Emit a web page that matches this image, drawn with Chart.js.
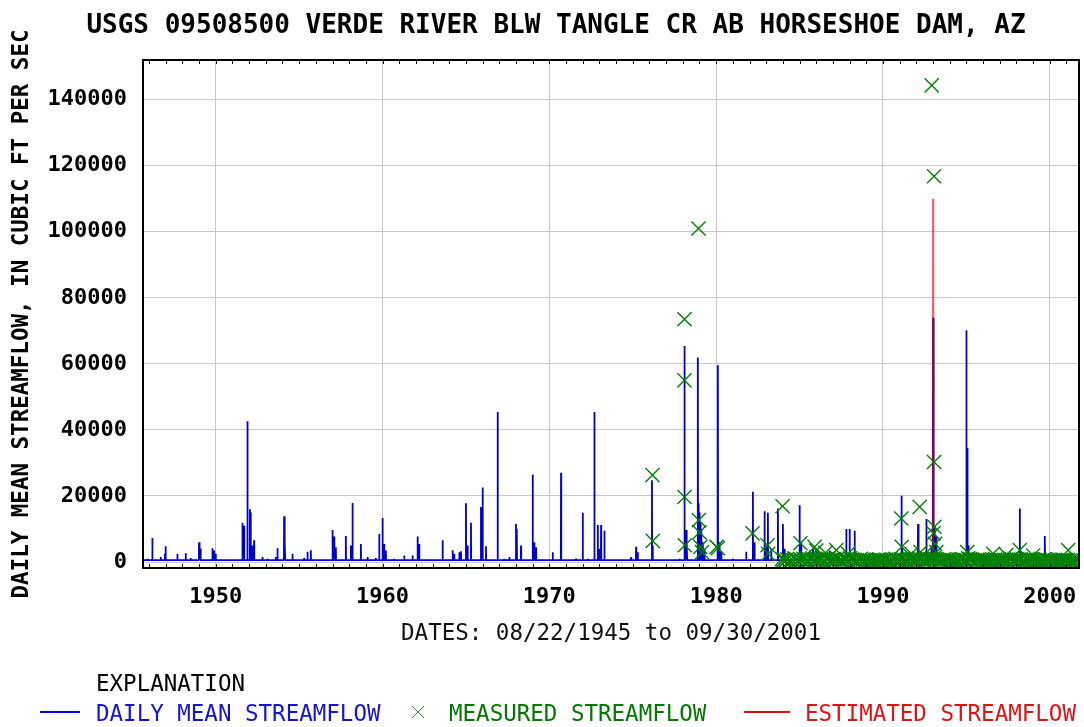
<!DOCTYPE html>
<html>
<head>
<meta charset="utf-8">
<title>USGS 09508500 Verde River</title>
<script src="https://cdn.jsdelivr.net/npm/chart.js@4.4.1/dist/chart.umd.min.js"></script>
<style>
  html, body { margin: 0; padding: 0; background: #fff; }
</style>
</head>
<body>
<canvas id="myChart" width="1084" height="727"></canvas>
<script>
const titleText = 'USGS 09508500 VERDE RIVER BLW TANGLE CR AB HORSESHOE DAM, AZ'
const yTitle = 'DAILY MEAN STREAMFLOW, IN CUBIC FT PER SEC'
const xTitle = 'DATES: 08/22/1945 to 09/30/2001'

const xMin = 1945.64   // 08/22/1945
const xMax = 2001.75   // 09/30/2001
const yMin = -1800
const yMax = 152000
const xTickYears = [1950, 1960, 1970, 1980, 1990, 2000]
const yTickValues = [0, 20000, 40000, 60000, 80000, 100000, 120000, 140000]

// daily mean flow: base flow plus the peaks
const baseFlow = 600
const dailyDates = [
  1945.9, 1946.2, 1946.7, 1946.95, 1947.0, 1947.7, 1948.2, 1948.5, 1949.0, 1949.05, 1949.1, 1949.8, 1949.9, 1950.0,
  1950.6, 1951.4, 1951.6, 1951.7, 1951.9, 1952.05, 1952.1, 1952.2, 1952.3, 1952.8, 1953.1, 1953.6, 1953.7,
  1954.1, 1954.15, 1954.6, 1955.3, 1955.5, 1955.7, 1956.3, 1957.0, 1957.1, 1957.2, 1957.8, 1958.1, 1958.2, 1958.7,
  1959.1, 1959.6, 1959.8, 1960.0, 1960.1, 1960.2, 1960.7, 1961.3, 1961.8, 1962.1, 1962.2, 1963.6, 1964.2, 1964.3,
  1964.6, 1964.7, 1965.0, 1965.1, 1965.3, 1965.9, 1966.0, 1966.2, 1966.9, 1967.3, 1967.6, 1968.0, 1968.05, 1968.3,
  1969.0, 1969.1, 1969.2, 1970.2, 1970.7, 1971.6, 1972.0, 1972.3, 1972.7, 1972.9, 1973.0, 1973.1, 1973.3, 1974.0,
  1974.9, 1975.2, 1975.3, 1976.15, 1976.2, 1977.8, 1978.1, 1978.2, 1978.25, 1978.9, 1978.95, 1979.0, 1979.05,
  1979.1, 1979.2, 1979.3, 1980.1, 1980.2, 1980.3, 1981.0, 1981.8, 1982.2, 1982.3, 1982.9, 1983.0, 1983.1, 1983.3,
  1983.7, 1984.0, 1984.1, 1985.0, 1985.1, 1985.6, 1985.8, 1986.0, 1986.6, 1986.8, 1987.2, 1987.8, 1988.0, 1988.3,
  1988.6, 1989.3, 1990.2, 1991.1, 1991.15, 1991.6, 1992.1, 1992.15, 1992.6, 1992.9, 1993.0, 1993.05, 1993.1,
  1993.2, 1995.0, 1995.05, 1995.1, 1995.15, 1995.6, 1996.5, 1997.5, 1998.2, 1998.25, 1999.7, 2000.5, 2001.2
]
const dailyPeaks = [
  1000, 7300, 1500, 2500, 4800, 2500, 2700, 1200, 6000, 4500, 4000, 4200, 3500, 2500,
  800, 700, 11900, 11000, 42600, 16000, 15000, 5000, 6600, 1500, 1000, 1500, 4200,
  13900, 6000, 2500, 1200, 3100, 3600, 800, 9700, 7700, 4500, 7900, 5000, 17900, 5500,
  1500, 1200, 8500, 13300, 5500, 3500, 1000, 2000, 2000, 7700, 5500, 6600, 3600, 2500,
  3000, 3300, 17800, 5000, 11900, 16700, 22600, 4800, 45400, 1000, 1500, 11500, 10000, 5000,
  26500, 6000, 4500, 3000, 27000, 1000, 14900, 1000, 45400, 11200, 4000, 11200, 9500, 800,
  1500, 4600, 3000, 24800, 5000, 1000, 65400, 9700, 5000, 61900, 17800, 15000, 12000,
  10000, 6000, 4000, 59600, 6000, 3000, 1000, 3100, 21300, 6000, 15400, 5000, 14900, 4000,
  16200, 11500, 4000, 17200, 6000, 3500, 4000, 3500, 2500, 3500, 2500, 10000, 10000, 9500,
  2000, 1500, 2000, 20100, 5000, 2500, 11500, 3000, 13000, 5000, 74000, 12000, 11000,
  8000, 70200, 34500, 5000, 3000, 2000, 1500, 2000, 16200, 3000, 7900, 1500, 1200
]

// estimated streamflow (null = no estimate)
const estimatedDates = [1991.18, 1991.22, 1991.7, 1992.3, 1992.34, 1992.6, 1992.985, 1993.0, 1993.015]
const estimatedFlows = [700, 700, null, 700, 700, null, 600, 110000, 600]

// field measurements
const measuredDates = [
  1976.18, 1976.2, 1978.1, 1978.1, 1978.1, 1978.12, 1978.94, 1978.96, 1979.0, 1979.05, 1979.15, 1980.02, 1980.1,
  1982.18, 1983.08, 1983.12, 1983.98,
  1985.05, 1985.9, 1986.0, 1986.55, 1987.2, 1987.9, 1991.1, 1991.12, 1991.7, 1992.2, 1992.25, 1992.92, 1993.06,
  1993.06, 1993.03, 1993.08, 1993.12, 1993.2, 1995.05, 1996.6, 1997.4, 1998.2, 1999.0, 2001.1,
  1983.94,
  1984.04, 1984.15, 1984.26, 1984.36, 1984.47, 1984.58, 1984.69, 1984.80, 1984.91,
  1985.02, 1985.13, 1985.22, 1985.34, 1985.45, 1985.56, 1985.66, 1985.77, 1985.88, 1985.97,
  1986.08, 1986.19, 1986.29, 1986.41, 1986.52, 1986.62, 1986.73, 1986.84, 1986.95,
  1987.06, 1987.17, 1987.27, 1987.38, 1987.50, 1987.60, 1987.71, 1987.82, 1987.93,
  1988.03, 1988.14, 1988.25, 1988.36, 1988.46, 1988.57, 1988.68, 1988.79, 1988.90,
  1989.01, 1989.12, 1989.23, 1989.34, 1989.44, 1989.55, 1989.66, 1989.77, 1989.88, 1989.98,
  1990.09, 1990.20, 1990.31, 1990.42, 1990.52, 1990.63, 1990.74, 1990.85, 1990.96,
  1991.07, 1991.18, 1991.28, 1991.39, 1991.50, 1991.61, 1991.72, 1991.83, 1991.94,
  1992.05, 1992.16, 1992.27, 1992.38, 1992.48, 1992.59, 1992.70, 1992.81, 1992.92,
  1993.03, 1993.14, 1993.25, 1993.36, 1993.47, 1993.57, 1993.68, 1993.79, 1993.90,
  1994.01, 1994.12, 1994.23, 1994.34, 1994.45, 1994.56, 1994.66, 1994.77, 1994.88, 1994.99,
  1995.10, 1995.21, 1995.32, 1995.43, 1995.54, 1995.64, 1995.75, 1995.86, 1995.97,
  1996.08, 1996.19, 1996.30, 1996.41, 1996.52, 1996.62, 1996.73, 1996.84, 1996.95,
  1997.06, 1997.17, 1997.28, 1997.39, 1997.50, 1997.61, 1997.71, 1997.82, 1997.93,
  1998.04, 1998.15, 1998.26, 1998.37, 1998.48, 1998.59, 1998.70, 1998.80, 1998.91,
  1999.02, 1999.13, 1999.24, 1999.35, 1999.46, 1999.57, 1999.68, 1999.79, 1999.89, 1999.99,
  2000.10, 2000.21, 2000.32, 2000.43, 2000.54, 2000.65, 2000.76, 2000.86, 2000.97,
  2001.08, 2001.19, 2001.30, 2001.41, 2001.52, 2001.63, 2001.73
]
const measuredFlows = [
  26300, 6400, 73500, 55000, 19700, 5100, 101000, 12700, 9000, 4600, 3000, 4600, 4200,
  8700, 5100, 2500, 16900,
  5700, 4600, 3500, 2800, 3600, 2500, 13200, 4600, 2500, 16700, 3000, 144300, 116800,
  30300, 8700, 10700, 5500, 3000, 3000, 2500, 2200, 3600, 2000, 3600,
  900,
  650, 480, 820, 300, 260, 540, 1100, 720, 430,
  880, 560, 990, 640, 350, 280, 760, 1050, 600, 470,
  820, 530, 690, 410, 300, 880, 1000, 560, 740,
  900, 610, 1050, 480, 330, 270, 690, 840, 520,
  1100, 760, 540, 380, 290, 620, 950, 700, 450,
  680, 520, 430, 310, 250, 270, 640, 820, 560, 480,
  600, 720, 390, 300, 260, 710, 1000, 650, 540,
  780, 940, 620, 410, 330, 760, 880, 590, 700,
  860, 1050, 720, 480, 360, 530, 900, 640, 810,
  1200, 950, 780, 520, 400, 610, 880, 690, 740,
  640, 560, 470, 360, 280, 300, 720, 940, 610, 550,
  1150, 900, 780, 520, 380, 660, 820, 590, 700,
  560, 480, 350, 280, 240, 620, 860, 500, 430,
  620, 540, 700, 390, 300, 680, 920, 600, 520,
  780, 660, 820, 470, 340, 700, 960, 580, 640,
  530, 460, 400, 320, 260, 610, 880, 720, 540, 480,
  500, 420, 330, 260, 230, 560, 780, 600, 520,
  640, 480, 400, 300, 280, 700, 620
]

const legendColors = ['#1414c8', '#007800', '#dc1414']

const buildDaily = () => {
  const pts = [{ x: xMin, y: baseFlow }]
  dailyDates.forEach((d, i) => {
    pts.push({ x: d - 0.012, y: baseFlow }, { x: d, y: dailyPeaks[i] }, { x: d + 0.012, y: baseFlow })
  })
  pts.push({ x: xMax, y: baseFlow })
  return pts
}

const toPoints = (dates, vals) => dates.map((d, i) => ({ x: d, y: vals[i] }))

const extras = {
  id: 'extras',
  afterDraw(chart) {
    const { ctx, chartArea: a, scales: { x } } = chart
    const ds = chart.data.datasets
    ctx.save()
    // small yearly tick marks inside the frame
    ctx.strokeStyle = '#000'
    ctx.lineWidth = 1
    for (let yr = Math.ceil(x.min); yr <= x.max; yr++) {
      const px = Math.round(x.getPixelForValue(yr)) + 0.5
      ctx.beginPath()
      ctx.moveTo(px, a.top); ctx.lineTo(px, a.top + 4)
      ctx.moveTo(px, a.bottom - 4); ctx.lineTo(px, a.bottom)
      ctx.stroke()
    }
    ctx.lineWidth = 2
    ctx.strokeRect(a.left, a.top, a.right - a.left, a.bottom - a.top)

    // title
    ctx.fillStyle = '#000'
    ctx.textAlign = 'center'
    ctx.textBaseline = 'alphabetic'
    ctx.font = 'bold 26px "DejaVu Sans Mono"'
    ctx.fillText(titleText, 556, 33)

    // explanation
    ctx.textAlign = 'left'
    ctx.font = '22.5px "DejaVu Sans Mono"'
    ctx.fillText('EXPLANATION', 96, 691)
    const rowY = 712
    const base = 721
    ctx.lineWidth = 2
    ctx.strokeStyle = ds[0].borderColor
    ctx.beginPath(); ctx.moveTo(40, rowY); ctx.lineTo(80, rowY); ctx.stroke()
    ctx.fillStyle = legendColors[0]
    ctx.fillText(ds[0].label, 96, base)

    ctx.lineWidth = 1
    ctx.strokeStyle = '#3c8c3c'
    ctx.beginPath()
    ctx.moveTo(412, rowY - 6); ctx.lineTo(424, rowY + 6)
    ctx.moveTo(424, rowY - 6); ctx.lineTo(412, rowY + 6)
    ctx.stroke()
    ctx.fillStyle = legendColors[1]
    ctx.fillText(ds[2].label, 449, base)

    ctx.lineWidth = 2
    ctx.strokeStyle = '#dc1414'
    ctx.beginPath(); ctx.moveTo(744, rowY); ctx.lineTo(790, rowY); ctx.stroke()
    ctx.fillStyle = legendColors[2]
    ctx.fillText(ds[1].label, 805, base)
    ctx.restore()
  }
}

Chart.defaults.font.family = '"DejaVu Sans Mono", monospace'
Chart.defaults.color = '#000'

new Chart(document.getElementById('myChart'), {
  type: 'line',
  data: {
    datasets: [
      {
        label: 'DAILY MEAN STREAMFLOW',
        data: buildDaily(),
        borderColor: 'rgb(0,0,205)',
        borderWidth: 1.8,
        borderJoinStyle: 'bevel',
        pointRadius: 0,
        clip: 0,
        order: 3
      },
      {
        label: 'ESTIMATED STREAMFLOW',
        data: toPoints(estimatedDates, estimatedFlows),
        borderColor: 'rgba(225,0,0,0.6)',
        borderWidth: 2,
        pointRadius: 0,
        spanGaps: false,
        clip: 0,
        order: 2
      },
      {
        label: 'MEASURED STREAMFLOW',
        data: toPoints(measuredDates, measuredFlows),
        showLine: false,
        pointStyle: 'crossRot',
        pointRadius: 10,
        pointBorderWidth: 1.4,
        borderColor: 'rgb(0,128,0)',
        backgroundColor: 'rgb(0,128,0)',
        clip: 0,
        order: 1
      }
    ]
  },
  options: {
    responsive: false,
    animation: false,
    layout: { autoPadding: false, padding: { left: 5, right: 5, top: 60, bottom: 75 } },
    plugins: {
      legend: { display: false },
      tooltip: { enabled: false }
    },
    scales: {
      x: {
        type: 'linear',
        min: xMin,
        max: xMax,
        afterBuildTicks: s => { s.ticks = xTickYears.map(v => ({ value: v })) },
        afterFit: s => { s.height = 84; s.paddingLeft = 0; s.paddingRight = 0 },
        grid: { color: '#c8c8c8', drawTicks: false },
        border: { display: false },
        ticks: {
          padding: 16,
          autoSkip: false,
          maxRotation: 0,
          callback: v => String(v),
          font: { size: 22, weight: 'bold' }
        },
        title: {
          display: true,
          text: xTitle,
          color: '#111',
          font: { size: 22.5 },
          padding: { top: 4, bottom: 4 }
        }
      },
      y: {
        type: 'linear',
        min: yMin,
        max: yMax,
        afterBuildTicks: s => { s.ticks = yTickValues.map(v => ({ value: v })) },
        afterFit: s => { s.width = 138; s.paddingTop = 0; s.paddingBottom = 0 },
        grid: { color: '#c8c8c8', drawTicks: false },
        border: { display: false },
        ticks: {
          padding: 16,
          callback: v => String(v),
          font: { size: 22, weight: 'bold' }
        },
        title: {
          display: true,
          text: yTitle,
          font: { size: 22.5, weight: 'bold' },
          padding: { top: 4, bottom: 4 }
        }
      }
    }
  },
  plugins: [extras]
})
</script>
</body>
</html>
